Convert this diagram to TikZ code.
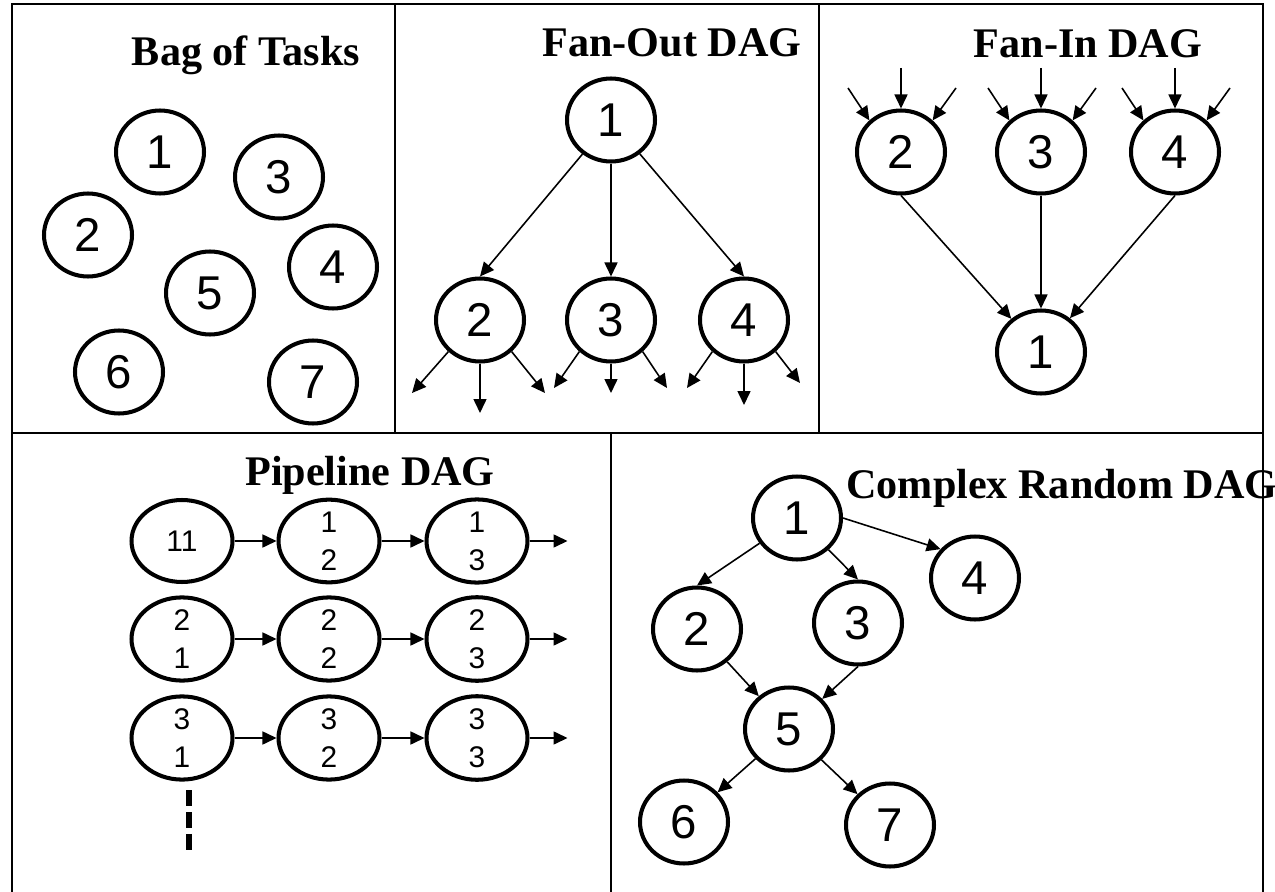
\documentclass[tikz,border=0pt]{standalone}
\usepackage{fontspec}
\setmainfont{Liberation Serif}
\newfontfamily\numfont{Liberation Sans}
\usetikzlibrary{shapes.geometric,arrows.meta}

\tikzset{
  task/.style={ellipse,draw,line width=2.3pt,minimum width=1.76cm,minimum height=1.66cm,
    inner sep=0pt,font=\numfont\fontsize{27}{30}\selectfont},
  stage/.style={ellipse,draw,line width=2.3pt,minimum width=2.02cm,minimum height=1.64cm,
    inner sep=0pt,align=center,font=\numfont\fontsize{17}{21.6}\selectfont},
  title/.style={anchor=base,inner sep=0pt,font=\bfseries\fontsize{24}{28}\selectfont},
  dep/.style={->,line width=0.9pt},
  frame/.style={line width=1.1pt},
}

\begin{document}
\begin{tikzpicture}[x=0.02cm,y=-0.02cm,>={Triangle[length=0.28cm,width=0.26cm]}]
\useasboundingbox (0,0) rectangle (1275,892);

% bag of tasks
\node[title] (bagt) at (246,66) {Bag of Tasks};
\foreach \n/\x/\y in {1/160/152,2/88/235,3/279/177,4/333/267,5/210/293,6/119/372,7/313/382}
	\node[task] (b\n) at (\x,\y) {\n};

% fan-out
\node[title] (fot) at (672,57) {Fan-Out DAG};
\node[task] (fo1) at (611,120) {1};
\foreach \n/\x in {2/480,3/611,4/744}{
	\node[task] (fo\n) at (\x,320) {\n};
	\draw[dep] (fo1) -- (fo\n.north);
}
\foreach \n/\a/\b/\m/\c/\d in {2/-68/73/93/65/73,3/-57/68/73/56/68,4/-57/68/85/56/63}{
	\path (fo\n.center) ++(\a,\b) coordinate (fo\n-a)
		(fo\n.center) ++(0,\m) coordinate (fo\n-b)
		(fo\n.center) ++(\c,\d) coordinate (fo\n-c);
	\draw[dep] (fo\n.225) -- (fo\n-a);
	\draw[dep] (fo\n.south) -- (fo\n-b);
	\draw[dep] (fo\n.315) -- (fo\n-c);
}

% fan-in
\node[title] (fit) at (1088,58) {Fan-In DAG};
\node[task] (fi1) at (1041,352) {1};
\foreach \n/\x in {2/901,3/1041,4/1175}{
	\node[task] (fi\n) at (\x,152) {\n};
	\path (fi\n.center) ++(-53,-64) coordinate (fi\n-a)
		(fi\n.center) ++(0,-84) coordinate (fi\n-b)
		(fi\n.center) ++(55,-64) coordinate (fi\n-c);
	\draw[dep] (fi\n-a) -- (fi\n.135);
	\draw[dep] (fi\n-b) -- (fi\n.north);
	\draw[dep] (fi\n-c) -- (fi\n.45);
}
\draw[dep] (fi2.south) -- (fi1);
\draw[dep] (fi3.south) -- (fi1.north);
\draw[dep] (fi4.south) -- (fi1);

% pipeline
\node[title] (pt) at (370,485) {Pipeline DAG};
\node[stage] (p11) at (182,541) {11};
\foreach \c/\x in {2/329,3/477}
	\node[stage] (p1\c) at (\x,541) {1\\\c};
\foreach \r/\y in {2/639,3/738}
	\foreach \c/\x in {1/182,2/329,3/477}
		\node[stage] (p\r\c) at (\x,\y) {\r\\\c};
\foreach \r in {1,2,3}{
	\draw[dep] (p\r1) -- (p\r2);
	\draw[dep] (p\r2) -- (p\r3);
	\path (p\r3.east) ++(38,0) coordinate (p\r4);
	\draw[dep] (p\r3) -- (p\r4);
}
\coordinate (pd1) at (189,790);
\coordinate (pd2) at (189,852);
\draw[line width=0.12cm,dash pattern=on 0.32cm off 0.12cm] (pd1) -- (pd2);

% complex random
\node[title,anchor=base west] (ct) at (846,498) {Complex Random DAG};
\foreach \n/\x/\y in {1/797/518,2/697/629,3/858/623,4/975/578,5/789/729,6/684/822,7/890/825}
	\node[task] (c\n) at (\x,\y) {\n};
\draw[dep] (c1) -- (c2.north);
\draw[dep] (c1) -- (c3.north);
\draw[dep] (c1.east) -- (c4.140);
\draw[dep] (c2) -- (c5);
\draw[dep] (c3.south) -- (c5);
\draw[dep] (c5) -- (c6);
\draw[dep] (c5) -- (c7);

% panels
\draw[frame] (12,892) -- (12,4) -- (1263,4) -- (1263,892);
\draw[frame] (12,433) -- (1263,433);
\draw[frame] (395,4) -- (395,433);
\draw[frame] (819,4) -- (819,433);
\draw[frame] (611,433) -- (611,892);
\end{tikzpicture}
\end{document}
